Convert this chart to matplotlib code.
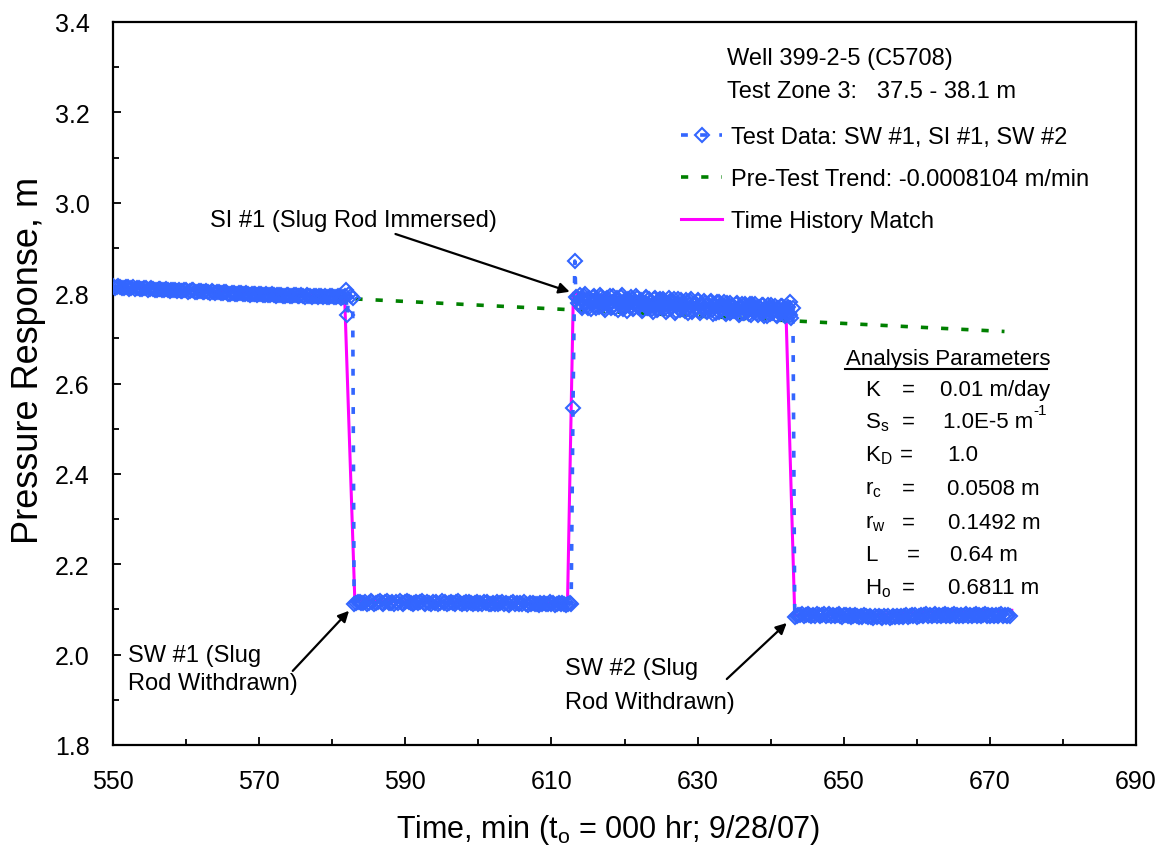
import numpy as np
import matplotlib
matplotlib.use("Agg")
import matplotlib.pyplot as plt
from matplotlib.lines import Line2D

plt.rcParams['font.family'] = ['Liberation Sans', 'DejaVu Sans']
plt.rcParams['mathtext.fontset'] = 'custom'
plt.rcParams['mathtext.rm'] = 'Liberation Sans'
plt.rcParams['mathtext.it'] = 'Liberation Sans:italic'

# ---- data -------------------------------------------------------------
# pre-test record (0.25 min sampling from 550.0 min)
pre_start, pre_step = 550.0, 0.25
pre_vals = [2.815, 2.812, 2.813, 2.816, 2.814, 2.811, 2.811, 2.814, 2.813, 2.810,
            2.812, 2.814, 2.810, 2.811, 2.812, 2.809, 2.810, 2.812, 2.811, 2.808,
            2.809, 2.811, 2.810, 2.807, 2.808, 2.810, 2.810, 2.806, 2.807, 2.809,
            2.808, 2.805, 2.806, 2.808, 2.808, 2.805, 2.807, 2.804, 2.805, 2.807,
            2.806, 2.803, 2.804, 2.806, 2.806, 2.803, 2.803, 2.805, 2.805, 2.802,
            2.803, 2.805, 2.802, 2.801, 2.804, 2.802, 2.801, 2.803, 2.802, 2.800,
            2.800, 2.802, 2.802, 2.799, 2.799, 2.801, 2.801, 2.798, 2.799, 2.800,
            2.800, 2.797, 2.798, 2.800, 2.799, 2.796, 2.797, 2.799, 2.799, 2.796,
            2.797, 2.798, 2.796, 2.795, 2.797, 2.796, 2.795, 2.797, 2.796, 2.794,
            2.795, 2.796, 2.796, 2.794, 2.794, 2.796, 2.795, 2.793, 2.794, 2.795,
            2.795, 2.793, 2.793, 2.795, 2.794, 2.792, 2.795, 2.794, 2.793, 2.792,
            2.794, 2.793, 2.792, 2.794, 2.794, 2.792, 2.793, 2.791, 2.792, 2.794,
            2.794, 2.791, 2.792, 2.793, 2.793, 2.790, 2.791, 2.793]
# readings around slug withdrawal #1
sw1_t = [581.85, 582.05, 582.3, 582.55, 582.8]
sw1_v = [2.806, 2.752, 2.799, 2.793, 2.790]
# after SW #1
low1_start, low1_step = 583.0, 0.25
low1_vals = [2.112, 2.114, 2.116, 2.117, 2.114, 2.115, 2.117, 2.113, 2.115, 2.118,
             2.116, 2.113, 2.114, 2.117, 2.119, 2.115, 2.113, 2.116, 2.118, 2.114,
             2.115, 2.117, 2.113, 2.116, 2.114, 2.118, 2.115, 2.113, 2.117, 2.119,
             2.116, 2.114, 2.112, 2.115, 2.117, 2.114, 2.116, 2.119, 2.115, 2.113,
             2.117, 2.115, 2.112, 2.116, 2.114, 2.117, 2.113, 2.115, 2.118, 2.114,
             2.116, 2.112, 2.114, 2.117, 2.115, 2.113, 2.116, 2.118, 2.114, 2.112,
             2.115, 2.117, 2.113, 2.116, 2.114, 2.111, 2.115, 2.117, 2.113, 2.115,
             2.112, 2.116, 2.114, 2.117, 2.113, 2.111, 2.115, 2.113, 2.116, 2.112,
             2.114, 2.116, 2.111, 2.115, 2.113, 2.110, 2.114, 2.116, 2.112, 2.114,
             2.111, 2.115, 2.113, 2.116, 2.112, 2.110, 2.114, 2.112, 2.115, 2.111,
             2.113, 2.110, 2.114, 2.112, 2.115, 2.111, 2.113, 2.116, 2.112, 2.114,
             2.110, 2.113, 2.115, 2.111, 2.114, 2.112, 2.110, 2.113, 2.115]
# readings around slug immersion #1
si1_t = [612.7, 612.95, 613.2, 613.35]
si1_v = [2.113, 2.546, 2.871, 2.792]
# after SI #1: two interleaved reading sets, 0.125 min apart
high_start, high_step = 613.5, 0.25
high_vals = [2.790, 2.775, 2.786, 2.771, 2.794, 2.779, 2.768, 2.788, 2.777, 2.792,
             2.772, 2.785, 2.769, 2.791, 2.778, 2.766, 2.787, 2.774, 2.793, 2.770,
             2.783, 2.767, 2.789, 2.775, 2.791, 2.764, 2.781, 2.772, 2.788, 2.769,
             2.786, 2.766, 2.779, 2.790, 2.771, 2.784, 2.763, 2.777, 2.789, 2.768,
             2.781, 2.765, 2.787, 2.772, 2.762, 2.784, 2.770, 2.788, 2.766, 2.779,
             2.763, 2.783, 2.770, 2.786, 2.761, 2.776, 2.766, 2.784, 2.772, 2.760,
             2.780, 2.765, 2.782, 2.759, 2.774, 2.768, 2.783, 2.761, 2.777, 2.764,
             2.779, 2.758, 2.772, 2.781, 2.763, 2.775, 2.757, 2.769, 2.780, 2.762,
             2.773, 2.756, 2.778, 2.766, 2.755, 2.771, 2.760, 2.777, 2.763, 2.754,
             2.770, 2.757, 2.775, 2.764, 2.753, 2.769, 2.776, 2.758, 2.766, 2.752,
             2.768, 2.755, 2.773, 2.761, 2.750, 2.766, 2.774, 2.756, 2.763, 2.751,
             2.767, 2.754, 2.771, 2.760, 2.749, 2.765, 2.757]
high_b_start = 613.625
high_vals_b = [2.779, 2.795, 2.768, 2.784, 2.797, 2.772, 2.789, 2.765, 2.782, 2.794,
               2.767, 2.780, 2.796, 2.771, 2.786, 2.763, 2.790, 2.776, 2.766, 2.793,
               2.774, 2.788, 2.762, 2.779, 2.795, 2.770, 2.785, 2.761, 2.776, 2.792,
               2.765, 2.781, 2.793, 2.769, 2.783, 2.760, 2.778, 2.791, 2.767, 2.786,
               2.772, 2.759, 2.789, 2.775, 2.764, 2.786, 2.768, 2.782, 2.758, 2.777,
               2.789, 2.766, 2.780, 2.757, 2.774, 2.787, 2.763, 2.779, 2.769, 2.785,
               2.756, 2.773, 2.786, 2.762, 2.778, 2.767, 2.784, 2.755, 2.771, 2.782,
               2.760, 2.776, 2.765, 2.783, 2.754, 2.770, 2.781, 2.759, 2.774, 2.764,
               2.780, 2.753, 2.769, 2.779, 2.758, 2.772, 2.762, 2.778, 2.752, 2.767,
               2.777, 2.757, 2.771, 2.761, 2.776, 2.751, 2.766, 2.775, 2.755, 2.769,
               2.759, 2.774, 2.750, 2.765, 2.773, 2.754, 2.768, 2.758, 2.772, 2.749,
               2.763, 2.771, 2.753, 2.767, 2.756, 2.770, 2.752]
# readings around slug withdrawal #2
sw2_t = [642.65, 642.85, 643.05]
sw2_v = [2.781, 2.744, 2.766]
# after SW #2
low2_start, low2_step = 643.3, 0.25
low2_vals = [2.083, 2.086, 2.088, 2.087, 2.089, 2.086, 2.088, 2.090, 2.087, 2.085,
             2.088, 2.086, 2.089, 2.087, 2.085, 2.088, 2.090, 2.086, 2.087, 2.089,
             2.086, 2.088, 2.085, 2.087, 2.089, 2.086, 2.084, 2.087, 2.088, 2.085,
             2.087, 2.084, 2.086, 2.088, 2.085, 2.083, 2.086, 2.084, 2.087, 2.085,
             2.083, 2.086, 2.084, 2.082, 2.085, 2.083, 2.086, 2.084, 2.082, 2.085,
             2.083, 2.086, 2.082, 2.084, 2.086, 2.083, 2.085, 2.084, 2.086, 2.083,
             2.085, 2.087, 2.084, 2.086, 2.088, 2.085, 2.087, 2.084, 2.086, 2.088,
             2.085, 2.087, 2.089, 2.086, 2.088, 2.085, 2.087, 2.089, 2.086, 2.088,
             2.085, 2.087, 2.089, 2.086, 2.088, 2.086, 2.087, 2.089, 2.085, 2.088,
             2.086, 2.088, 2.085, 2.087, 2.089, 2.086, 2.088, 2.085, 2.087, 2.089,
             2.086, 2.088, 2.085, 2.087, 2.089, 2.086, 2.088, 2.085, 2.087, 2.086,
             2.088, 2.085, 2.087, 2.089, 2.086, 2.087, 2.085, 2.088, 2.086]

# pre-test trend
trend_slope = -0.0008104   # m/min
trend_t0, trend_h0 = 550.0, 2.814
trend_t = [550.0, 672.0]

# type-curve (time history) match
match_t = [550.0, 581.7, 583.1, 612.2, 613.0, 642.1, 643.3, 655.0, 664.0, 673.0]
match_v = [2.814, 2.792, 2.118, 2.113, 2.800, 2.757, 2.087, 2.089, 2.096, 2.098]

x_ticks = [550, 570, 590, 610, 630, 650, 670, 690]
y_ticks = [1.8, 2.0, 2.2, 2.4, 2.6, 2.8, 3.0, 3.2, 3.4]

# ---- assemble series ----------------------------------------------------
def sampled(start, step, vals):
    return start + step * np.arange(len(vals))

data_t = np.concatenate([sampled(pre_start, pre_step, pre_vals), sw1_t,
                         sampled(low1_start, low1_step, low1_vals), si1_t,
                         sampled(high_start, high_step, high_vals),
                         sampled(high_b_start, high_step, high_vals_b), sw2_t,
                         sampled(low2_start, low2_step, low2_vals)])
data_v = np.concatenate([pre_vals, sw1_v, low1_vals, si1_v, high_vals, high_vals_b,
                         sw2_v, low2_vals])
order_t = np.argsort(data_t, kind='stable')
data_t, data_v = data_t[order_t], data_v[order_t]
trend_v = [trend_h0 + trend_slope * (t - trend_t0) for t in trend_t]

# ---- figure ---------------------------------------------------------------
W, H = 1168, 853
fig = plt.figure(figsize=(W / 100, H / 100), dpi=100)
ax = fig.add_axes([113 / W, 107 / H, 1023 / W, 723 / H])

def fx(px):
    return px / W

def fy(py):
    return 1 - py / H

blue = '#3366FF'
green = '#008000'
magenta = '#FF00FF'

ax.plot(trend_t, trend_v, color=green, lw=2.6, dashes=(2.0, 3.6), zorder=2,
        label='Pre-Test Trend: -0.0008104 m/min')
ax.plot(match_t, match_v, color=magenta, lw=2.2, zorder=3, label='Time History Match')
ax.plot(data_t, data_v, color=blue, lw=2.6, dashes=(1.9, 3.4), marker='D',
        markersize=6.8, mfc='none', mec=blue, mew=1.5, zorder=4,
        label='Test Data: SW #1, SI #1, SW #2')

ax.set_xlim(550, 690)
ax.set_ylim(1.8, 3.4)
ax.set_xticks(x_ticks)
ax.set_xticks(np.arange(560, 690, 20), minor=True)
ax.set_yticks(y_ticks)
ax.set_yticks(np.arange(1.9, 3.4, 0.2), minor=True)
ax.set_yticklabels([f'{v:.1f}' for v in y_ticks])
ax.tick_params(which='both', direction='in', top=False, right=False, width=1.3)
ax.tick_params(which='major', length=6)
ax.tick_params(which='minor', length=4.5)
ax.tick_params(axis='x', which='both', labelsize=18, pad=17)
ax.tick_params(axis='y', which='both', labelsize=18, pad=17)
for sp in ax.spines.values():
    sp.set_linewidth(1.6)

fig.text(fx(29), fy(360), 'Pressure Response, m', rotation=90, ha='center',
         va='center', fontsize=26)
fig.text(fx(608), fy(830), r'Time, min (t$_\mathregular{o}$ = 000 hr; 9/28/07)',
         ha='center', va='center', fontsize=22)

# legend
h, l = ax.get_legend_handles_labels()
order = [2, 0, 1]
ax.legend([h[i] for i in order], [l[i] for i in order], loc='upper left',
          bbox_to_anchor=((681 - 113) / 1023, (746 - 127) / 723), frameon=False,
          fontsize=17, handlelength=1.75, handletextpad=0.35, labelspacing=0.85,
          borderpad=0, borderaxespad=0)

# well header
fig.text(fx(727), fy(59), 'Well 399-2-5 (C5708)', fontsize=17, va='center')
fig.text(fx(727), fy(92), 'Test Zone 3:   37.5 - 38.1 m', fontsize=17, va='center')

# analysis parameters
fig.text(fx(846), fy(359), 'Analysis Parameters', fontsize=16, va='center')
fig.add_artist(Line2D([fx(845), fx(1047)], [fy(370), fy(370)], color='black', lw=1.5))
params = [
    ('K', '=', '0.01 m/day', 388, 902, 940),
    (r'S$_\mathregular{s}$', '=', '1.0E-5 m', 420, 902, 943),
    (r'K$_\mathregular{D}$', '=', '1.0', 453, 900, 947),
    (r'r$_\mathregular{c}$', '=', '0.0508 m', 487, 902, 947),
    (r'r$_\mathregular{w}$', '=', '0.1492 m', 521, 902, 948),
    ('L', '=', '0.64 m', 553, 907, 950),
    (r'H$_\mathregular{o}$', '=', '0.6811 m', 586, 902, 948),
]
for name, eq, val, py, ex, vx in params:
    fig.text(fx(865), fy(py), name, fontsize=16, va='center_baseline')
    fig.text(fx(ex), fy(py), eq, fontsize=16, va='center_baseline')
    fig.text(fx(vx), fy(py), val, fontsize=16, va='center_baseline')
fig.text(fx(1033), fy(411), '-1', fontsize=11, va='center')

# event annotations
arrow = dict(arrowstyle='-|>', color='black', lw=1.6, mutation_scale=16,
             shrinkA=0, shrinkB=0)
ax.annotate('SI #1 (Slug Rod Immersed)', xy=(612.5, 2.803), xytext=(602.6, 2.937),
            arrowprops=arrow, fontsize=17, ha='right', va='bottom')
ax.annotate('', xy=(582.3, 2.097), xytext=(574.6, 1.964), arrowprops=arrow)
ax.annotate('', xy=(642.2, 2.070), xytext=(634.0, 1.946), arrowprops=arrow)
fig.text(fx(128), fy(670), 'SW #1 (Slug\nRod Withdrawn)', fontsize=17, va='center',
         linespacing=1.35)
fig.text(fx(565), fy(686), 'SW #2 (Slug\nRod Withdrawn)', fontsize=17, va='center',
         linespacing=1.75)

fig.savefig('out.png', dpi=100)
